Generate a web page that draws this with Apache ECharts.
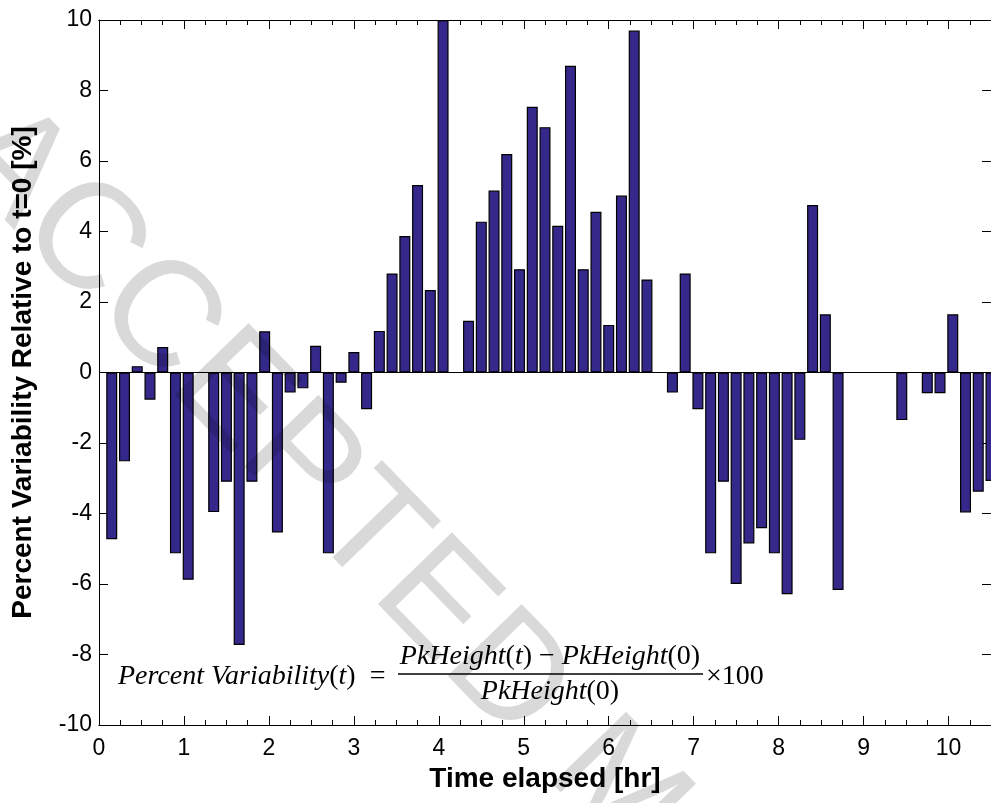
<!DOCTYPE html>
<html>
<head>
<meta charset="utf-8">
<script src="https://cdn.jsdelivr.net/npm/echarts@6/dist/echarts.min.js"></script>
<style>
  html, body { margin: 0; padding: 0; background: #fff; }
  #chart { width: 991px; height: 803px; }
</style>
</head>
<body>
<div id="chart"></div>
<script>
// sample times [hr]
const times = [0.15, 0.3, 0.45, 0.6, 0.75, 0.9, 1.05, 1.2, 1.35, 1.5,
  1.65, 1.8, 1.95, 2.1, 2.25, 2.4, 2.55, 2.7, 2.85, 3.0,
  3.15, 3.3, 3.45, 3.6, 3.75, 3.9, 4.05, 4.2, 4.35, 4.5,
  4.65, 4.8, 4.95, 5.1, 5.25, 5.4, 5.55, 5.7, 5.85, 6.0,
  6.15, 6.3, 6.45, 6.6, 6.75, 6.9, 7.05, 7.2, 7.35, 7.5,
  7.65, 7.8, 7.95, 8.1, 8.25, 8.4, 8.55, 8.7, 8.85, 9.0,
  9.15, 9.3, 9.45, 9.6, 9.75, 9.9, 10.05, 10.2, 10.35, 10.5];

// percent variability, null = no bar
const variability = [-4.73, -2.52, 0.18, -0.77, 0.72, -5.13, -5.88, null, -3.96, -3.10,
  -7.73, -3.10, 1.17, -4.54, -0.57, -0.45, 0.76, -5.13, -0.29, 0.58,
  -1.04, 1.18, 2.81, 3.87, 5.32, 2.34, 10.0, null, 1.47, 4.28,
  5.16, 6.20, 2.93, 7.54, 6.96, 4.16, 8.70, 2.93, 4.56, 1.35,
  5.02, 9.70, 2.64, null, -0.57, 2.81, -1.04, -5.13, -3.10, -6.00,
  -4.85, -4.42, -5.13, -6.29, -1.91, 4.75, 1.65, -6.17, null, null,
  null, null, -1.35, null, -0.59, -0.59, 1.65, -3.97, -3.38, -3.08];

const xTicks = [0, 1, 2, 3, 4, 5, 6, 7, 8, 9, 10];
const yTicks = [-10, -8, -6, -4, -2, 0, 2, 4, 6, 8, 10];

const barData = [];
times.forEach((t, i) => {
  if (variability[i] !== null) barData.push([t, variability[i]]);
});

const labelFont = '"Liberation Sans", Arial, sans-serif';
const mathFont = '"Liberation Serif", "DejaVu Serif", serif';
const mathSize = 28;

function xAxisCfg(pos, step, tickLen, showLabel) {
  return {
    type: 'value', position: pos, min: 0, max: 10.5, interval: step,
    axisLine: { show: true, onZero: false, lineStyle: { color: '#000', width: 1 } },
    axisTick: { show: true, inside: true, length: tickLen, lineStyle: { color: '#000', width: 1 } },
    splitLine: { show: false },
    axisLabel: {
      show: showLabel, showMaxLabel: false, margin: 12,
      fontFamily: labelFont, fontSize: 23, color: '#000',
      formatter: v => xTicks.includes(v) ? String(v) : ''
    }
  };
}

const mathRich = {
  i: { fontFamily: mathFont, fontStyle: 'italic', fontSize: mathSize, fill: '#000' },
  n: { fontFamily: mathFont, fontSize: mathSize, fill: '#000' }
};

const chart = echarts.init(document.getElementById('chart'));
const option = {
  animation: false,
  backgroundColor: '#fff',
  grid: { left: 99, top: 20, width: 892, height: 705 },
  xAxis: [
    Object.assign(xAxisCfg('bottom', 1, 9, true), {
      name: 'Time elapsed [hr]', nameLocation: 'middle', nameGap: 38,
      nameTextStyle: { fontFamily: labelFont, fontWeight: 'bold', fontSize: 28, color: '#000' }
    }),
    xAxisCfg('bottom', 0.25, 5, false),
    xAxisCfg('top', 1, 9, false),
    xAxisCfg('top', 0.25, 5, false)
  ],
  yAxis: [
    {
      type: 'value', position: 'left', min: -10, max: 10, interval: 2,
      name: 'Percent Variability Relative to t=0 [%]', nameLocation: 'middle', nameGap: 62,
      nameTextStyle: { fontFamily: labelFont, fontWeight: 'bold', fontSize: 28, color: '#000' },
      axisLine: { show: true, onZero: false, lineStyle: { color: '#000', width: 1 } },
      axisTick: { show: true, inside: true, length: 9, lineStyle: { color: '#000' } },
      splitLine: { show: false },
      axisLabel: { margin: 7, fontFamily: labelFont, fontSize: 23, color: '#000',
        formatter: v => yTicks.includes(v) ? String(v) : '' }
    },
    {
      type: 'value', position: 'right', min: -10, max: 10, interval: 2,
      axisLine: { show: true, onZero: false, lineStyle: { color: '#000', width: 1 } },
      axisTick: { show: true, inside: true, length: 9, lineStyle: { color: '#000' } },
      splitLine: { show: false },
      axisLabel: { show: false }
    }
  ],
  series: [{
    type: 'bar',
    xAxisIndex: 0,
    yAxisIndex: 0,
    data: barData,
    barWidth: 11,
    itemStyle: { color: '#34298a', borderColor: '#000', borderWidth: 1.2 },
    markLine: {
      silent: true, symbol: 'none', label: { show: false },
      lineStyle: { color: '#000', width: 1, type: 'solid' },
      data: [{ yAxis: 0 }]
    }
  }],
  graphic: [
    {
      type: 'text', x: 118, y: 677,
      style: {
        text: '{i|Percent Variability}{n|(}{i|t}{n|)  =}',
        textVerticalAlign: 'middle',
        rich: mathRich
      }
    },
    {
      type: 'text', x: 550, y: 657,
      style: {
        text: '{i|PkHeight}{n|(}{i|t}{n|) − }{i|PkHeight}{n|(0)}',
        textAlign: 'center', textVerticalAlign: 'middle',
        rich: mathRich
      }
    },
    {
      type: 'line',
      shape: { x1: 398, y1: 674, x2: 703, y2: 674 },
      style: { stroke: '#000', lineWidth: 1.5 }
    },
    {
      type: 'text', x: 550, y: 692,
      style: {
        text: '{i|PkHeight}{n|(0)}',
        textAlign: 'center', textVerticalAlign: 'middle',
        rich: mathRich
      }
    },
    {
      type: 'text', x: 706, y: 677,
      style: { text: '×100', font: mathSize + 'px ' + mathFont, fill: '#000', textVerticalAlign: 'middle' }
    },
    {
      type: 'text', x: -25, y: 130, rotation: -0.8, silent: true, z: 100,
      style: {
        text: 'ACCEPTED MANUSCRIPT',
        font: '150px ' + labelFont,
        fill: 'rgba(0,0,0,0.15)',
        textVerticalAlign: 'middle'
      }
    }
  ]
};
chart.setOption(option);
</script>
</body>
</html>
